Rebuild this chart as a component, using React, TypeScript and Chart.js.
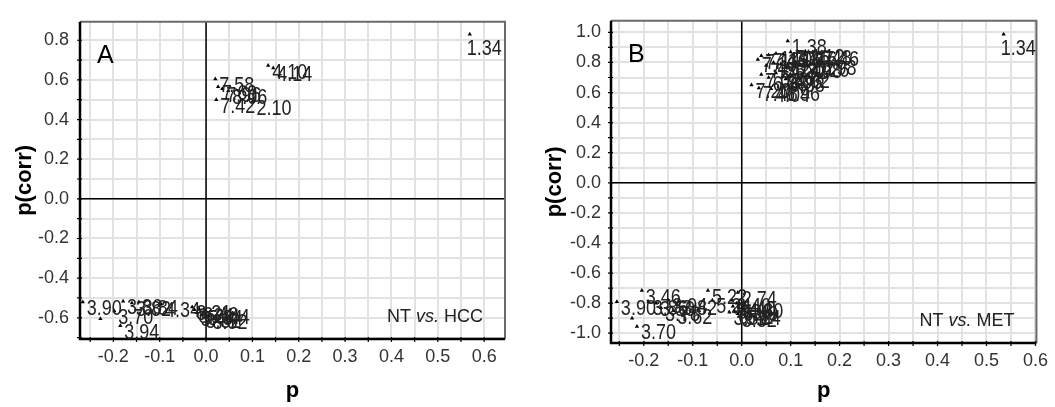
import React, { useEffect, useRef } from "react";
import { Chart, registerables } from "chart.js";

Chart.register(...registerables);

const FONT = '"Liberation Sans", Arial, Helvetica, sans-serif';

// ---------- Panel A: NT vs. HCC ----------
const aX = [0.569, 0.134, 0.145, 0.020, 0.026, 0.035, 0.048, 0.022, 0.100,
  -0.266, -0.179, -0.160, -0.145, -0.097, -0.198, -0.185, -0.228,
  -0.030, -0.025, -0.020, -0.015, -0.010, -0.005, 0.005, 0.010];
const aY = [0.83, 0.672, 0.660, 0.605, 0.565, 0.555, 0.545, 0.500, 0.490,
  -0.520, -0.517, -0.525, -0.520, -0.530, -0.566, -0.640, -0.605,
  -0.545, -0.560, -0.575, -0.555, -0.585, -0.570, -0.590, -0.565];
const aLabels = ["1.34", "4.10", "4.14", "7.58", "7.69", "7.96", "8.06", "7.42", "2.10",
  "3.90", "3.86", "3.82", "3.84", "4.34", "3.70", "3.94", "",
  "8.21", "8.24", "5.44", "6.46", "8.32", "5.34", "8.52", "6.44"];

// ---------- Panel B: NT vs. MET ----------
const bX = [0.535, 0.094, 0.033, 0.040, 0.055, 0.070, 0.085, 0.100, 0.115, 0.130, 0.145, 0.160,
  0.050, 0.065, 0.080, 0.095, 0.110, 0.125, 0.140, 0.155,
  0.040, 0.055, 0.070, 0.085, 0.100, 0.090, 0.020, 0.035, 0.060, 0.080,
  -0.255, -0.204, -0.190, -0.175, -0.165, -0.150, -0.140, -0.130, -0.224, -0.214,
  -0.069, -0.060, -0.008, -0.020, -0.018, -0.015, -0.010, -0.008, -0.005, 0.000, 0.005, -0.025];
const bY = [0.987, 0.942, 0.820, 0.845, 0.850, 0.860, 0.855, 0.870, 0.865, 0.875, 0.870, 0.860,
  0.780, 0.800, 0.790, 0.775, 0.800, 0.780, 0.790, 0.800,
  0.720, 0.700, 0.730, 0.710, 0.720, 0.690, 0.650, 0.630, 0.625, 0.630,
  -0.790, -0.716, -0.790, -0.800, -0.830, -0.780, -0.850, -0.790, -0.900, -0.955,
  -0.716, -0.780, -0.730, -0.780, -0.820, -0.850, -0.800, -0.870, -0.830, -0.860, -0.810, -0.860];
const bLabels = ["1.34", "1.38", "7.10", "7.14", "7.16", "1.30", "4.06", "7.26", "1.46", "4.12", "1.48", "7.46",
  "7.36", "4.18", "5.24", "1.32", "7.62", "3.98", "1.26", "6.98",
  "7.02", "6.88", "5.26", "7.06", "4.02", "6.88", "7.20", "7.48", "4.04", "6.96",
  "3.90", "3.46", "3.86", "3.50", "3.78", "3.94", "3.62", "3.82", "", "3.70",
  "5.22", "5.24", "2.74", "6.40", "5.30", "6.42", "5.40", "3.32", "6.49", "5.34", "4.30", "3.52"];

// ---------- Axis ticks ----------
const xTicks = [-0.25, -0.2, -0.15, -0.1, -0.05, 0, 0.05, 0.1, 0.15, 0.2, 0.25, 0.3, 0.35, 0.4, 0.45, 0.5, 0.55, 0.6];
const aYTicks = [-0.7, -0.6, -0.5, -0.4, -0.3, -0.2, -0.1, 0, 0.1, 0.2, 0.3, 0.4, 0.5, 0.6, 0.7, 0.8];
const bYTicks = [-1.0, -0.9, -0.8, -0.7, -0.6, -0.5, -0.4, -0.3, -0.2, -0.1, 0, 0.1, 0.2, 0.3, 0.4, 0.5, 0.6, 0.7, 0.8, 0.9, 1.0];

const isMult = (v: number, k: number) => {
  const r = v * 10 / k;
  return Math.abs(r - Math.round(r)) < 1e-6;
};
const fmt = (v: number) => (Math.abs(v) < 1e-9 ? "0.0" : v.toFixed(1));

interface PanelCfg {
  xs: number[]; ys: number[]; labels: string[];
  yTicks: number[];
  xMin: number; xMax: number; yMin: number; yMax: number;
  letter: string; group: string;
  yWidth: number; xHeight: number; padRight: number; yTitlePad: number; yTickPad: number;
}

function makeOverlay(cfg: PanelCfg) {
  return {
    id: "overlay",
    beforeDatasetsDraw(chart: any) {
      const { ctx, chartArea: a, scales } = chart;
      const xs = scales.x, ys = scales.y;
      ctx.save();
      ctx.strokeStyle = "#000";
      ctx.lineWidth = 1.5;
      const x0 = xs.getPixelForValue(0), y0 = ys.getPixelForValue(0);
      ctx.beginPath();
      ctx.moveTo(x0, a.top); ctx.lineTo(x0, a.bottom);
      ctx.moveTo(a.left, y0); ctx.lineTo(a.right, y0);
      ctx.stroke();
      ctx.strokeStyle = "#6a6a6a";
      ctx.lineWidth = 2;
      ctx.beginPath();
      ctx.moveTo(a.left, a.top); ctx.lineTo(a.right, a.top); ctx.lineTo(a.right, a.bottom);
      ctx.stroke();
      ctx.strokeStyle = "#000";
      ctx.lineWidth = 2.5;
      ctx.beginPath();
      ctx.moveTo(a.left, a.top); ctx.lineTo(a.left, a.bottom); ctx.lineTo(a.right, a.bottom);
      ctx.stroke();
      ctx.lineWidth = 1.2;
      ctx.beginPath();
      xTicks.forEach((v) => {
        const p = xs.getPixelForValue(v);
        if (p < a.left - 1 || p > a.right + 1) return;
        ctx.moveTo(p, a.bottom - 2); ctx.lineTo(p, a.bottom + 3);
      });
      cfg.yTicks.forEach((v) => {
        const p = ys.getPixelForValue(v);
        if (p < a.top - 1 || p > a.bottom + 1) return;
        ctx.moveTo(a.left - 3, p); ctx.lineTo(a.left + 2, p);
      });
      ctx.stroke();
      ctx.restore();
    },
    afterDatasetsDraw(chart: any) {
      const { ctx, chartArea: a } = chart;
      ctx.save();
      ctx.font = `18px ${FONT}`;
      ctx.fillStyle = "#222";
      ctx.textBaseline = "alphabetic";
      ctx.textAlign = "left";
      const meta = chart.getDatasetMeta(0);
      meta.data.forEach((el: any, i: number) => {
        const t = cfg.labels[i];
        if (!t) return;
        const w = ctx.measureText(t).width;
        let x = el.x + 4;
        let base = el.y + 13;
        if (x + w > a.right) { x = el.x - 3; base = el.y + 21; }
        ctx.save();
        ctx.translate(x, base);
        ctx.scale(1, 1.25);
        ctx.fillText(t, 0, 0);
        ctx.restore();
      });
      ctx.fillStyle = "#000";
      ctx.font = `25px ${FONT}`;
      ctx.fillText(cfg.letter, a.left + 17, a.top + 41);
      const parts: [string, string][] = [["NT ", "normal"], ["vs.", "italic"], [" " + cfg.group, "normal"]];
      let total = 0;
      parts.forEach(([s, st]) => { ctx.font = `${st} 18px ${FONT}`; total += ctx.measureText(s).width; });
      let cx = a.right - 22 - total;
      const by = a.bottom - 17;
      ctx.fillStyle = "#222";
      parts.forEach(([s, st]) => {
        ctx.font = `${st} 18px ${FONT}`;
        ctx.fillText(s, cx, by);
        cx += ctx.measureText(s).width;
      });
      ctx.restore();
    },
  };
}

function Panel({ cfg, left, width }: { cfg: PanelCfg; left: number; width: number }) {
  const ref = useRef<HTMLCanvasElement>(null);
  useEffect(() => {
    if (!ref.current) return;
    const pts = cfg.xs.map((x, i) => ({ x, y: cfg.ys[i] }));
    const tickFont = { family: FONT, size: 18 };
    const chart = new Chart(ref.current, {
      type: "scatter",
      data: {
        datasets: [{
          data: pts,
          pointStyle: "triangle",
          radius: 2.5,
          backgroundColor: "#000",
          borderColor: "#000",
          borderWidth: 0,
        }],
      },
      options: {
        responsive: false,
        animation: false,
        layout: { padding: { top: 12, right: cfg.padRight, left: 0, bottom: 0 } },
        plugins: { legend: { display: false }, tooltip: { enabled: false } },
        scales: {
          x: {
            type: "linear",
            min: cfg.xMin, max: cfg.xMax,
            afterBuildTicks: (s: any) => { s.ticks = xTicks.map((v) => ({ value: v })); },
            afterFit: (s: any) => { s.height = cfg.xHeight; },
            ticks: {
              autoSkip: false, maxRotation: 0, minRotation: 0, padding: 7,
              color: "#333", font: tickFont,
              callback: (v: any) => (isMult(Number(v), 1) ? fmt(Number(v)) : ""),
            },
            grid: { color: "#e2e2e2", lineWidth: 2, drawTicks: false },
            border: { display: false },
            title: { display: true, text: "p", color: "#000", font: { family: FONT, size: 22, weight: "bold" }, padding: { top: 0, bottom: 3 } },
          },
          y: {
            type: "linear",
            min: cfg.yMin, max: cfg.yMax,
            afterBuildTicks: (s: any) => { s.ticks = cfg.yTicks.map((v) => ({ value: v })); },
            afterFit: (s: any) => { s.width = cfg.yWidth; },
            ticks: {
              autoSkip: false, padding: cfg.yTickPad,
              color: "#333", font: tickFont,
              callback: (v: any) => (isMult(Number(v), 2) ? fmt(Number(v)) : ""),
            },
            grid: { color: "#e2e2e2", lineWidth: 2, drawTicks: false },
            border: { display: false },
            title: { display: true, text: "p(corr)", color: "#000", font: { family: FONT, size: 22, weight: "bold" }, padding: { top: cfg.yTitlePad, bottom: 0 } },
          },
        },
      } as any,
      plugins: [makeOverlay(cfg)],
    });
    return () => chart.destroy();
  }, []);
  return (
    <div style={{ position: "absolute", left, top: 0, width, height: 407 }}>
      <canvas ref={ref} width={width} height={407} style={{ display: "block" }} />
    </div>
  );
}

const cfgA: PanelCfg = {
  xs: aX, ys: aY, labels: aLabels, yTicks: aYTicks,
  xMin: -0.272, xMax: 0.645, yMin: -0.707, yMax: 0.893,
  letter: "A", group: "HCC",
  yWidth: 80, xHeight: 68, padRight: 22, yTitlePad: 12, yTickPad: 11,
};
const cfgB: PanelCfg = {
  xs: bX, ys: bY, labels: bLabels, yTicks: bYTicks,
  xMin: -0.267, xMax: 0.602, yMin: -1.065, yMax: 1.077,
  letter: "B", group: "MET",
  yWidth: 84, xHeight: 64, padRight: 18, yTitlePad: 15, yTickPad: 10,
};

export default function App() {
  return (
    <div style={{ position: "absolute", left: 0, top: 0, width: 1055, height: 407, background: "#fff", overflow: "hidden" }}>
      <Panel cfg={cfgA} left={0} width={527} />
      <Panel cfg={cfgB} left={527} width={528} />
    </div>
  );
}
